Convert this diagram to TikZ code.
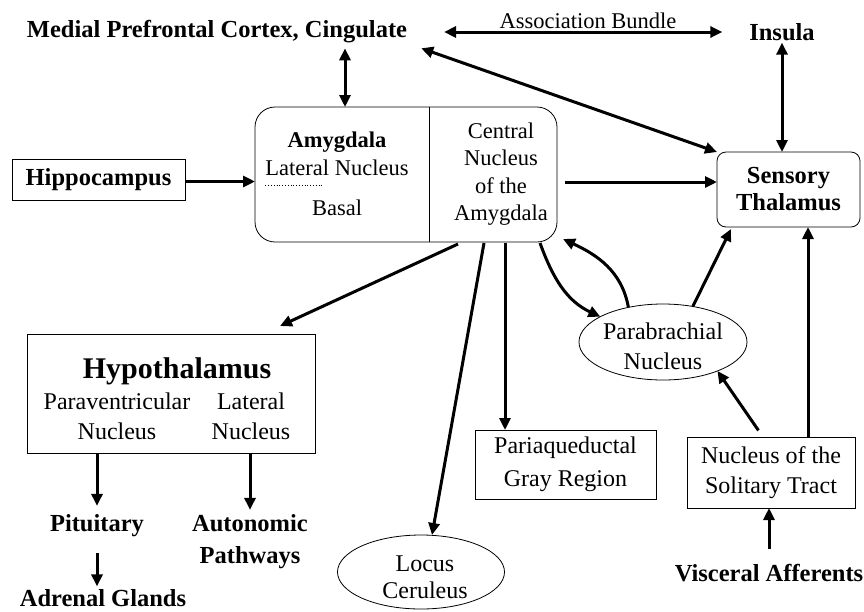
\documentclass[tikz,border=0pt]{standalone}
\usepackage{fontspec}
\setmainfont{Liberation Serif}
\usetikzlibrary{arrows.meta,calc,shapes.geometric}
\begin{document}
\begin{tikzpicture}[x=1pt,y=-1pt,
  every node/.style={inner sep=0pt, outer sep=0pt},
  big/.style={font=\fontsize{24.5}{29}\selectfont\bfseries, align=center},
  huge/.style={font=\fontsize{30}{34}\selectfont\bfseries},
  txt/.style={font=\fontsize{24}{30}\selectfont, align=center},
  small/.style={font=\fontsize{22.5}{27.3}\selectfont, align=center},
  frame/.style={draw, line width=0.8pt},
  oval/.style={draw, line width=0.8pt, ellipse},
  link/.style={line width=3pt, -{Triangle[length=12pt,width=11pt]}},
  both/.style={line width=3pt, {Triangle[length=12pt,width=11pt]}-{Triangle[length=12pt,width=11pt]}},
]
\useasboundingbox (0,0) rectangle (864,611);

% top row
\node[big] (mpc) at (217,32) {Medial Prefrontal Cortex, Cingulate};
\node[big] (insula) at (782,32) {Insula};
\node[small] (assoc) at (588,21) {Association Bundle};

% amygdala complex
\node[frame, rounded corners=20pt, minimum width=302pt, minimum height=135pt] (amy) at (406,174.5) {};
\draw[line width=0.8pt] ($(amy.north west)+(174,0)$) -- ($(amy.south west)+(174,0)$);
\node[font=\fontsize{22.5}{27}\selectfont\bfseries] (amyname) at (337,142) {Amygdala};
\node[small] (latnuc) at (337,168) {Lateral Nucleus};
\node[small] (basal) at (337,208) {Basal};
\draw[dotted, line width=0.8pt] ($(latnuc.south west)+(0,9)$) -- ($(latnuc.south west)+(57,9)$);
\node[small] (cea) at (501,174) {Central\\Nucleus\\of the\\Amygdala};

% input and sensory relay
\node[frame, big, minimum width=173pt, minimum height=41pt] (hip) at (98.5,179.5) {Hippocampus};
\node[frame, font=\fontsize{24.5}{27}\selectfont\bfseries, align=center, rounded corners=9pt,
      minimum width=143pt, minimum height=75pt] (thal) at (788.5,189.5) {Sensory\\Thalamus};

% hypothalamus and its outputs
\node[frame, minimum width=288pt, minimum height=119pt] (hyp) at (171,393.5) {};
\node[huge] (hypname) at (177,371) {Hypothalamus};
\node[txt] (pvn) at (117,416) {Paraventricular\\Nucleus};
\node[txt] (lat) at (251,416) {Lateral\\Nucleus};
\node[big] (pit) at (97,526) {Pituitary};
\node[font=\fontsize{24.5}{32}\selectfont\bfseries, align=center] (auto) at (250,542) {Autonomic\\Pathways};
\node[big] (adr) at (103,598) {Adrenal Glands};

% brainstem targets
\node[frame, font=\fontsize{24}{33}\selectfont, align=center, minimum width=181pt, minimum height=69pt] (pag) at (565.5,464.5) {Pariaqueductal\\Gray Region};
\node[oval, minimum width=167pt, minimum height=74pt] (lc) at (421,572) {};
\node[font=\fontsize{24}{27}\selectfont, align=center] (lctext) at (425,577.5) {Locus\\Ceruleus};
\node[oval, minimum width=168pt, minimum height=76pt] (pb) at (663,342) {};
\node[txt] (pbtext) at (663,346) {Parabrachial\\Nucleus};
\node[frame, txt, minimum width=168pt, minimum height=71pt] (nts) at (771,472.5) {Nucleus of the\\Solitary Tract};
\node[big] (visc) at (769,573) {Visceral Afferents};

% cortical connections
\coordinate (mpcx) at (345,0);
\draw[both, shorten <=5pt] (mpc.south -| mpcx) -- (amy.north -| mpcx);
\draw[both, shorten <=37pt, shorten >=27pt] (mpc.east) -- (insula.west);
\draw[both, shorten <=15pt] (mpc.south east) -- (thal.north west);
\draw[both, shorten <=2pt] (insula.south) -- (insula.south |- thal.north);

% amygdala inputs and outputs
\draw[link] ($(hip.east)+(0,2)$) -- ($(hip.east -| amy.west)+(0,2)$);
\draw[link] ($(amy.east)+(8,7.5)$) -- ($(thal.west)+(0,-7.5)$);
\draw[link] ($(amy.south)+(52,2)$) -- ($(hyp.north east)+(-35,-8)$);
\draw[link] ($(amy.south)+(78,1)$) -- ($(lc.north)+(11,0)$);
\coordinate (pagin) at ($(pag.north west)+(30,0)$);
\draw[link] ($(pagin |- amy.south)+(0,1)$) -- (pagin);
\draw[link] ($(amy.south)+(134,1)$) to[out=-70,in=155] (pb.158);
\draw[link] (pb.135) to[out=100,in=-25] ($(amy.south east)+(6,-3)$);

% brainstem relays
\draw[link] (pb.50) -- ($(thal.south west)+(14,2)$);
\draw[link, shorten <=8pt] ($(nts.north)+(-8,0)$) -- (pb.-28);
\coordinate (ntsup) at ($(nts.north east)+(-47,0)$);
\draw[link] (ntsup) -- (ntsup |- thal.south);
\draw[link, shorten <=15pt] (visc.north) -- (visc.north |- nts.south);

% hypothalamic outputs
\draw[link, shorten >=9pt] (pit.north |- hyp.south) -- (pit.north);
\draw[link, shorten >=5pt] (hyp.south -| auto.north) -- (auto.north);
\draw[link, shorten <=16pt, shorten >=3pt] (pit.south) -- (pit.south |- adr.north);
\end{tikzpicture}
\end{document}
